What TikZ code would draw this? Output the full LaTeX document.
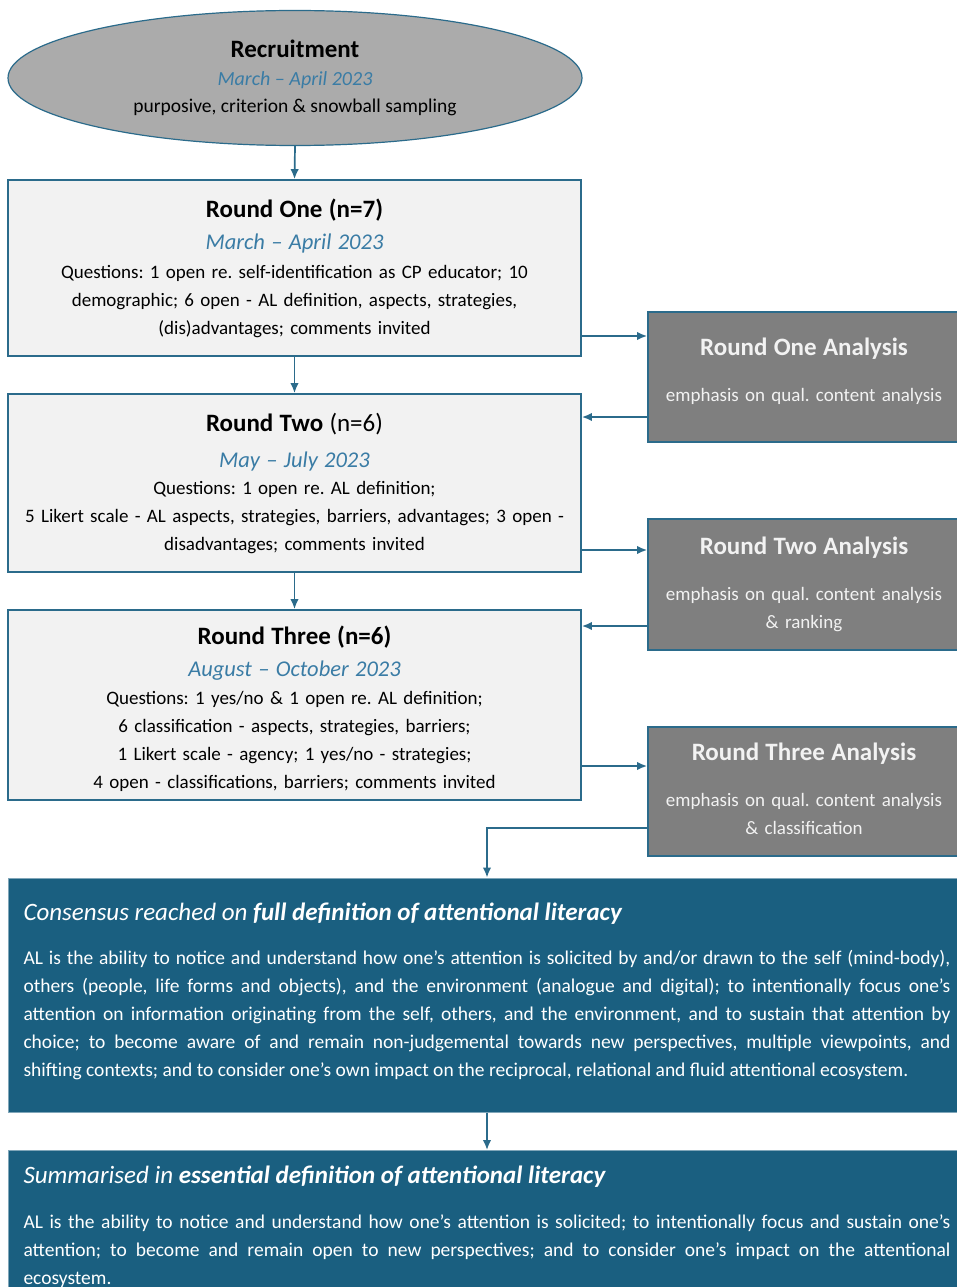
\documentclass[tikz,border=0pt]{standalone}
\usepackage{fontspec}
\setmainfont{Carlito}
\usetikzlibrary{shapes.geometric,arrows.meta}

\definecolor{edgeblue}{HTML}{2B6B8B}
\definecolor{datecol}{HTML}{3A7CA5}
\definecolor{boxfill}{HTML}{F2F2F2}
\definecolor{ellfill}{HTML}{ABABAB}
\definecolor{anafill}{HTML}{7F7F7F}
\definecolor{deffill}{HTML}{1A5F80}

\newcommand\rtitle[1]{{\fontsize{25}{28}\selectfont\bfseries #1}}
\newcommand\rdate[1]{{\color{datecol}\fontsize{22.5}{28}\selectfont\itshape #1}}
\newcommand\atitle[1]{{\fontsize{25}{28}\selectfont\bfseries #1}}
\newcommand\dhead[1]{{\fontsize{25}{28}\selectfont\itshape #1}}
\newcommand\lowstrut[1]{\rule[-#1]{0pt}{#1}}

\tikzset{
  roundbox/.style={draw=edgeblue,line width=1.8pt,fill=boxfill,minimum width=573pt,
    text width=560pt,align=center,inner sep=0pt,font=\fontsize{19}{28}\selectfont},
  anabox/.style={draw=edgeblue,line width=1.8pt,fill=anafill,minimum width=312pt,
    text width=304pt,align=center,inner sep=0pt,text=white!95!black,
    font=\fontsize{19}{28}\selectfont},
  defbox/.style={draw=edgeblue!60,line width=1pt,fill=deffill,text=white,text width=927pt,
    align=justify,inner xsep=15pt,font=\fontsize{19.5}{28}\selectfont},
  arr/.style={draw=edgeblue,line width=1.7pt,-{Latex[length=10pt,width=8.5pt]}}
}

\begin{document}
\frenchspacing
\begin{tikzpicture}[x=1pt,y=-1pt]
\useasboundingbox (0,0) rectangle (957,1287);

\node[ellipse,draw=edgeblue,line width=1.2pt,fill=ellfill,minimum width=574pt,minimum height=135pt,
  align=center,inner sep=0pt,font=\fontsize{19.5}{27.5}\selectfont] (rec) at (295,78)
  {{\fontsize{25}{27.5}\selectfont\bfseries Recruitment}\\
   {\color{datecol}\fontsize{20}{27.5}\selectfont\itshape March – April 2023}\\
   purposive, criterion \& snowball sampling};

\node[roundbox,minimum height=176pt] (r1) at (294.5,268)
  {\rule{0pt}{21pt}\rtitle{Round One (n=7)}\\[4pt]
   \rdate{March – April 2023}\\[1pt]
   Questions: 1 open re. self-identification as CP educator; 10\\
   demographic; 6 open - AL definition, aspects, strategies,\\
   (dis)advantages; comments invited\lowstrut{5pt}};

\node[roundbox,minimum height=178pt] (r2) at (294.5,483)
  {\rtitle{Round Two} {\fontsize{25}{28}\selectfont(n=6)}\\[8pt]
   \rdate{May – July 2023}\\[-1pt]
   Questions: 1 open re. AL definition;\\
   5 Likert scale - AL aspects, strategies, barriers, advantages; 3 open -\\
   disadvantages; comments invited};

\node[roundbox,minimum height=190pt] (r3) at (294.5,705)
  {\rule{0pt}{27pt}\rtitle{Round Three (n=6)}\\[4pt]
   \rdate{August – October 2023}\\[0pt]
   Questions: 1 yes/no \& 1 open re. AL definition;\\
   6 classification - aspects, strategies, barriers;\\
   1 Likert scale - agency; 1 yes/no - strategies;\\
   4 open - classifications, barriers; comments invited};

\node[anabox,minimum height=130pt] (r1a) at (804,377)
  {\atitle{Round One Analysis}\\[18pt]
   emphasis on qual. content analysis\lowstrut{15pt}};
\node[anabox,minimum height=131pt] (r2a) at (804,584.5)
  {\atitle{Round Two Analysis}\\[18pt]
   emphasis on qual. content analysis\\
   \& ranking};
\node[anabox,minimum height=129pt] (r3a) at (804,791.5)
  {\atitle{Round Three Analysis}\\[18pt]
   emphasis on qual. content analysis\\
   \& classification\lowstrut{6pt}};

\node[defbox,minimum height=234pt] (cons) at (487,995)
  {\dhead{Consensus reached on \bfseries full definition of attentional literacy}\\[16pt]
   AL is the ability to notice and understand how one’s attention is solicited by and/or drawn to the self (mind-body),\linebreak
   others (people, life forms and objects), and the environment (analogue and digital); to intentionally focus one’s\linebreak
   attention on information originating from the self, others, and the environment, and to sustain that attention by\linebreak
   choice; to become aware of and remain non-judgemental towards new perspectives, multiple viewpoints, and\linebreak
   shifting contexts; and to consider one’s own impact on the reciprocal, relational and fluid attentional ecosystem.\lowstrut{10pt}};

\node[defbox,anchor=north,inner ysep=15pt] (sum) at (487,1150)
  {\dhead{Summarised in \bfseries essential definition of attentional literacy}\\[17pt]
   AL is the ability to notice and understand how one’s attention is solicited; to intentionally focus and sustain one’s\linebreak
   attention; to become and remain open to new perspectives; and to consider one’s impact on the attentional\linebreak
   ecosystem.};

\coordinate (in1) at ([yshift=41pt]r1a.west);
\coordinate (out1) at ([yshift=-40pt]r1a.west);
\coordinate (in2) at ([yshift=34.5pt]r2a.west);
\coordinate (out2) at ([yshift=-41.5pt]r2a.west);
\coordinate (in3) at ([yshift=25.5pt]r3a.west);
\coordinate (out3) at ([yshift=-36.5pt]r3a.west);

\draw[arr] (rec.south) -- (r1.north);
\draw[arr] (r1.south) -- (r2.north);
\draw[arr] (r2.south) -- (r3.north);
\draw[arr] (r1.east |- in1) -- (in1);
\draw[arr] (out1) -- (r2.east |- out1);
\draw[arr] (r2.east |- in2) -- (in2);
\draw[arr] (out2) -- (r3.east |- out2);
\draw[arr] (r3.east |- in3) -- (in3);
\draw[arr] (out3) -| (cons.north);
\draw[arr] (cons.south) -- (sum.north);
\end{tikzpicture}
\end{document}
